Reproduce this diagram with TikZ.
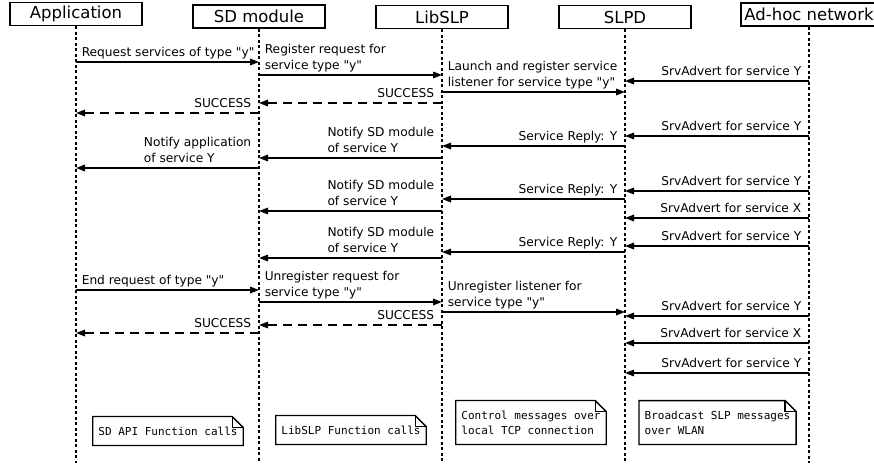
\documentclass[tikz,border=0pt]{standalone}
\usepackage{fontspec}
\setmainfont{DejaVu Sans}
\setmonofont{DejaVu Sans Mono}
\usetikzlibrary{arrows.meta, calc}

\tikzset{
    head/.style={draw, line width=1.4pt, minimum width=132pt, minimum height=23pt, inner sep=0pt, font=\fontsize{16.5}{19}\selectfont},
    life/.style={line width=1.8pt, dash pattern=on 3pt off 2.5pt},
    msg/.style={line width=1.6pt, -{Triangle[length=9pt, width=6.5pt]}},
    ret/.style={msg, dash pattern=on 9pt off 6pt},
    lbl/.style={inner sep=2pt, text depth=3pt, align=left, font=\fontsize{12.2}{16}\selectfont},
    lblr/.style={lbl, anchor=south west, xshift=3pt},
    lbll/.style={lbl, anchor=south east, xshift=-5pt},
    note/.style={inner xsep=5.5pt, inner ysep=10pt, align=left, font=\ttfamily\fontsize{11}{15}\selectfont},
    notebox/.style={line width=1.4pt, line join=miter}
}

\newcommand\dogear[1]{%
    \draw[notebox] (#1.south west) |- ($(#1.north east)+(-11pt,0pt)$) -- ($(#1.north east)+(0pt,-11pt)$) |- cycle;
    \draw[notebox] ($(#1.north east)+(-11pt,0pt)$) |- ($(#1.north east)+(0pt,-11pt)$);
}
\newcommand\qy{\textquotedbl y\textquotedbl}

\begin{document}
\begin{tikzpicture}[x=1pt, y=-1pt]
    \useasboundingbox (0,0) rectangle (874,463);

    \node[head] (app) at (76,14) {Application};
    \node[head] (sd) at (259,16.5) {SD module};
    \node[head] (lib) at (442,17) {LibSLP};
    \node[head] (slpd) at (625,17) {SLPD};
    \node[head, minimum width=136pt] (net) at (809,14.5) {Ad-hoc network};

    \coordinate (bot) at (0,463);
    \foreach \n in {app,sd,lib,slpd,net}
        \draw[life] (\n.south) -- (\n |- bot);

    \draw[msg] (app |- 0,62) node[lblr]{Request services of type \qy} -- (sd |- 0,62);
    \draw[msg] (sd |- 0,75) node[lblr]{Register request for\\service type \qy} -- (lib |- 0,75);
    \draw[msg] (lib |- 0,92) node[lblr]{Launch and register service\\listener for service type \qy} -- (slpd |- 0,92);
    \draw[ret] (lib |- 0,103) node[lbll]{SUCCESS} -- (sd |- 0,103);
    \draw[ret] (sd |- 0,113) node[lbll]{SUCCESS} -- (app |- 0,113);

    \foreach \y/\s in {81/Y,136/Y,191/Y,218/X,246/Y,316/Y,343/X,373/Y}
        \draw[msg] (net |- 0,\y) node[lbll]{SrvAdvert for service \s} -- (slpd |- 0,\y);
    \foreach \y in {146,199,252}
        \draw[msg] (slpd |- 0,\y) node[lbll]{Service Reply: Y} -- (lib |- 0,\y);
    \foreach \y in {158,211,258}
        \draw[msg] (lib |- 0,\y) node[lbll]{Notify SD module\\of service Y} -- (sd |- 0,\y);
    \draw[msg] (sd |- 0,168) node[lbll]{Notify application\\of service Y} -- (app |- 0,168);

    \draw[msg] (app |- 0,290) node[lblr]{End request of type \qy} -- (sd |- 0,290);
    \draw[msg] (sd |- 0,302) node[lblr]{Unregister request for\\service type \qy} -- (lib |- 0,302);
    \draw[msg] (lib |- 0,312) node[lblr]{Unregister listener for\\service type \qy} -- (slpd |- 0,312);
    \draw[ret] (lib |- 0,325) node[lbll]{SUCCESS} -- (sd |- 0,325);
    \draw[ret] (sd |- 0,333) node[lbll]{SUCCESS} -- (app |- 0,333);

    \node[note] (n1) at (168,431) {SD API Function calls};
    \node[note] (n2) at (351,430) {LibSLP Function calls};
    \node[note] (n3) at (531,422.5) {Control messages over\\local TCP connection};
    \node[note] (n4) at (717.5,422.5) {Broadcast SLP messages\\over WLAN};
    \foreach \n in {n1,n2,n3,n4} {
        \dogear{\n}
    }
\end{tikzpicture}
\end{document}
